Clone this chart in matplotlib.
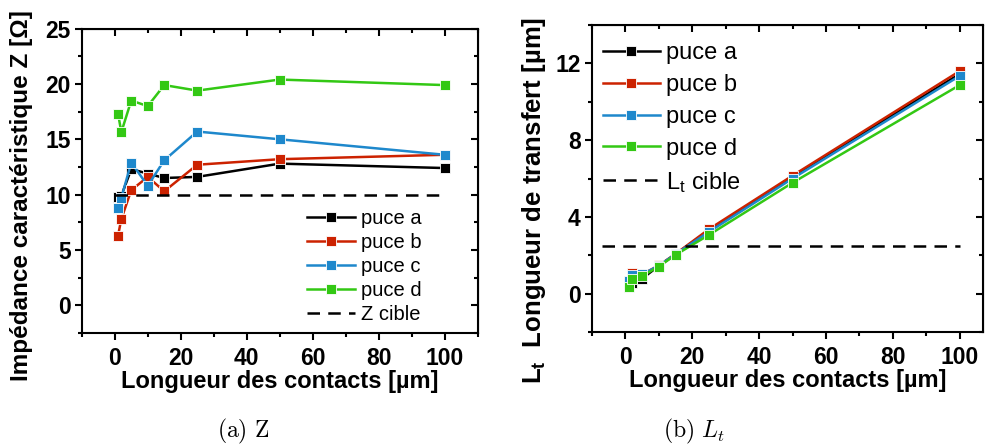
import numpy as np
import matplotlib
matplotlib.use("Agg")
import matplotlib.pyplot as plt
from matplotlib.ticker import MultipleLocator

plt.rcParams['font.family'] = ['Liberation Sans', 'DejaVu Sans']
plt.rcParams['mathtext.fontset'] = 'custom'
plt.rcParams['mathtext.rm'] = 'Liberation Sans'
plt.rcParams['mathtext.bf'] = 'Liberation Sans:bold'
plt.rcParams['mathtext.it'] = 'Liberation Sans:italic'

# contact lengths (um)
longueur = [1, 2, 5, 10, 15, 25, 50, 100]

# characteristic impedance Z (ohm)
z_a = [9.8, 9.9, 12.3, 11.9, 11.5, 11.6, 12.8, 12.4]
z_b = [6.3, 7.8, 10.4, 11.6, 10.3, 12.7, 13.2, 13.6]
z_c = [8.8, 9.7, 12.9, 10.8, 13.1, 15.7, 15.0, 13.6]
z_d = [17.3, 15.65, 18.5, 18.0, 19.9, 19.4, 20.4, 19.9]
z_cible = 10

# transfer length Lt (um)
lt_a = [0.50, 0.57, 0.78, 1.45, 2.05, 3.30, 6.10, 11.45]
lt_b = [0.55, 1.06, 1.00, 1.47, 2.07, 3.36, 6.15, 11.60]
lt_c = [0.66, 0.96, 1.00, 1.46, 2.06, 3.22, 6.00, 11.35]
lt_d = [0.37, 0.75, 0.92, 1.41, 2.02, 3.06, 5.78, 10.87]
lt_cible = 2.5

puces = ['puce a', 'puce b', 'puce c', 'puce d']
couleurs = ['black', '#CC2200', '#1E88CC', '#33C814']


def style_axes(ax, xmin, xmax, ymin, ymax, ymaj, ymin_step, fs):
    ax.set_xlim(xmin, xmax)
    ax.set_ylim(ymin, ymax)
    ax.xaxis.set_major_locator(MultipleLocator(20))
    ax.xaxis.set_minor_locator(MultipleLocator(10))
    ax.yaxis.set_major_locator(MultipleLocator(ymaj))
    ax.yaxis.set_minor_locator(MultipleLocator(ymin_step))
    ax.tick_params(which='both', direction='out', width=1.5, pad=3)
    ax.tick_params(axis='x', pad=5)
    ax.tick_params(which='major', length=5, labelsize=fs)
    ax.tick_params(which='minor', length=3)
    for lab in ax.get_xticklabels() + ax.get_yticklabels():
        lab.set_fontweight('bold')
    for s in ax.spines.values():
        s.set_linewidth(1.5)
    # mirrored ticks pointing inward on top and right
    top = ax.secondary_xaxis('top')
    top.xaxis.set_major_locator(MultipleLocator(20))
    top.xaxis.set_minor_locator(MultipleLocator(10))
    top.tick_params(which='both', direction='in', labeltop=False, width=1.5)
    top.tick_params(which='major', length=5)
    top.tick_params(which='minor', length=3)
    right = ax.secondary_yaxis('right')
    right.yaxis.set_major_locator(MultipleLocator(ymaj))
    right.yaxis.set_minor_locator(MultipleLocator(ymin_step))
    right.tick_params(which='both', direction='in', labelright=False, width=1.5)
    right.tick_params(which='major', length=5)
    right.tick_params(which='minor', length=3)


fig = plt.figure(figsize=(9.85, 4.48), dpi=100)
tirets = (0, (5, 3.3))

# (a) Z
ax1 = fig.add_axes([0.083, 0.257, 0.402, 0.679])
for serie, nom, c in zip([z_a, z_b, z_c, z_d], puces, couleurs):
    ax1.plot(longueur, serie, '-s', color=c, lw=1.8, ms=7, mec='white', mew=0.6, label=nom)
ax1.hlines(z_cible, 0, 100, color='black', ls=tirets, lw=1.8, label='Z cible')
style_axes(ax1, -10, 110, -2.5, 25, 5, 2.5, 16.5)
ax1.set_xlabel('Longueur des contacts [µm]', fontsize=17, fontweight='bold', labelpad=0)
ax1.set_ylabel('Impédance caractéristique Z [Ω]', fontsize=17.5, fontweight='bold')
ax1.yaxis.set_label_coords(-0.124, 0.45)
ax1.legend(loc='lower left', bbox_to_anchor=(0.57, 0.03), frameon=False, fontsize=14.5,
           handlelength=2.35, labelspacing=0.25, handletextpad=0.3, borderaxespad=0, borderpad=0)

# (b) Lt
ax2 = fig.add_axes([0.601, 0.259, 0.397, 0.685])
for serie, nom, c in zip([lt_a, lt_b, lt_c, lt_d], puces, couleurs):
    ax2.plot(longueur, serie, '-s', color=c, lw=1.8, ms=7, mec='white', mew=0.6, label=nom)
ax2.hlines(lt_cible, -7, 100, color='black', ls=tirets, lw=1.8, label=r'L$_\mathrm{t}$ cible')
style_axes(ax2, -10, 107, -2, 14, 4, 2, 16.5)
ax2.set_xlabel('Longueur des contacts [µm]', fontsize=17, fontweight='bold', labelpad=0)
ax2.set_ylabel(r'L$_\mathbf{t}$  Longueur de transfert [µm]', fontsize=18.5, fontweight='bold')
ax2.yaxis.set_label_coords(-0.113, 0.43)
ax2.legend(loc='upper left', bbox_to_anchor=(0.028, 0.945), frameon=False, fontsize=17,
           handlelength=2.4, labelspacing=0.42, handletextpad=0.25, borderaxespad=0, borderpad=0)

# captions
fig.text(0.247, 0.036, r'$\mathrm{(a)\ Z}$', fontsize=17, ha='center', va='center', math_fontfamily='cm')
fig.text(0.705, 0.036, r'$\mathrm{(b)}\ L_t$', fontsize=17, ha='center', va='center', math_fontfamily='cm')

fig.savefig('out.png', dpi=100)
